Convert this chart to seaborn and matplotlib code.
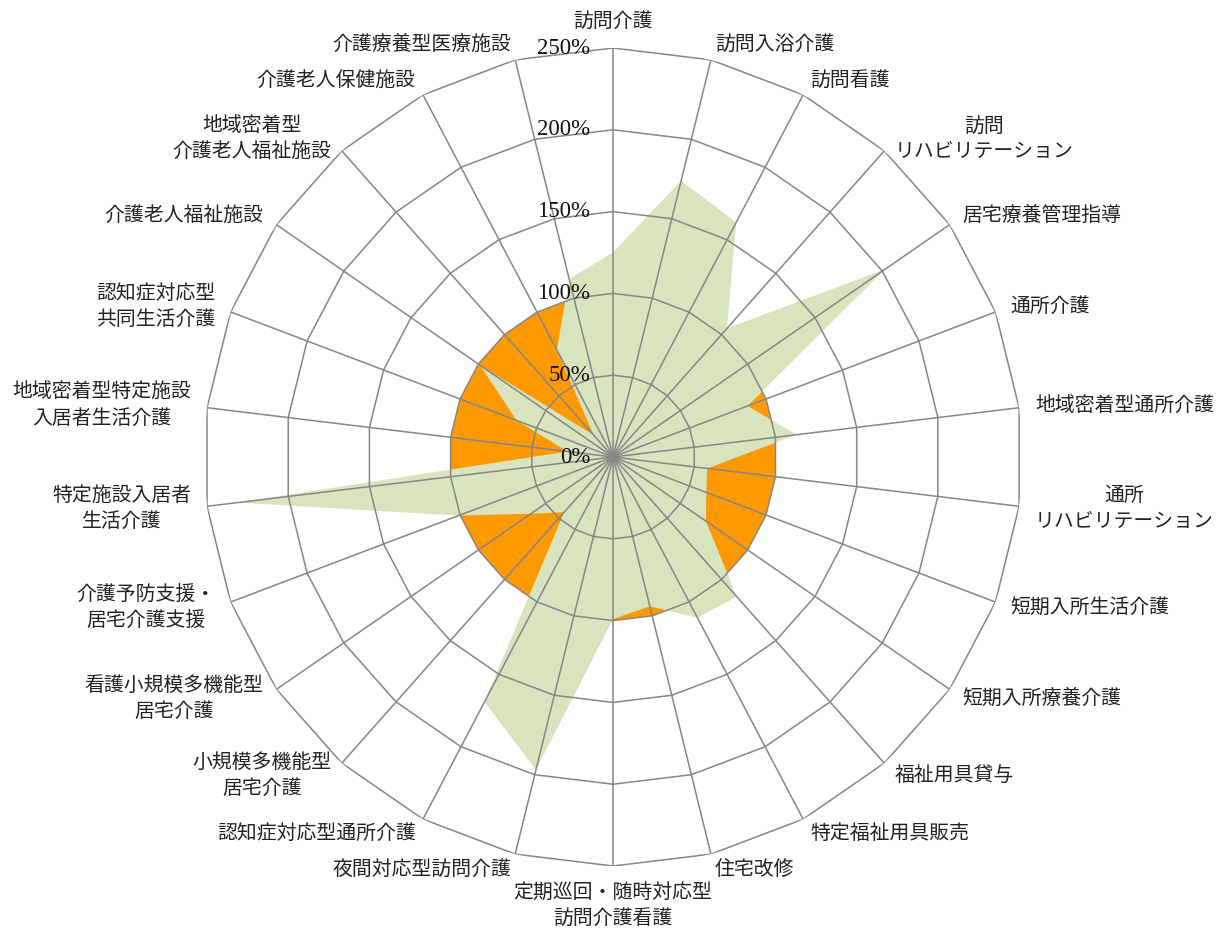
import numpy as np
import matplotlib
matplotlib.use("Agg")
import matplotlib.pyplot as plt
import seaborn as sns

sns.set_style("white")
plt.rcParams['font.family'] = ['Noto Sans CJK JP', 'DejaVu Sans']

# categories, clockwise from the top
categories = [
    '訪問介護', '訪問入浴介護', '訪問看護', '訪問\nリハビリテーション', '居宅療養管理指導',
    '通所介護', '地域密着型通所介護', '通所\nリハビリテーション', '短期入所生活介護',
    '短期入所療養介護', '福祉用具貸与', '特定福祉用具販売', '住宅改修',
    '定期巡回・随時対応型\n訪問介護看護', '夜間対応型訪問介護', '認知症対応型通所介護',
    '小規模多機能型\n居宅介護', '看護小規模多機能型\n居宅介護', '介護予防支援・\n居宅介護支援',
    '特定施設入居者\n生活介護', '地域密着型特定施設\n入居者生活介護', '認知症対応型\n共同生活介護',
    '介護老人福祉施設', '地域密着型\n介護老人福祉施設', '介護老人保健施設', '介護療養型医療施設',
]

# baseline series (orange) and regional series (green), in %
baseline = [100, 100, 100, 100, 100, 100, 100, 100, 100, 100, 100, 100, 100,
            100, 100, 100, 100, 100, 100, 100, 100, 100, 100, 100, 100, 100]
region = [125, 174, 162, 105, 202, 88, 113, 58, 61, 69, 114, 111, 94,
          99, 197, 169, 45, 61, 101, 231, 28, 63, 99, 18, 74, 112]

ticks = [0, 50, 100, 150, 200, 250]
tick_labels = ['0%', '50%', '100%', '150%', '200%', '250%']

n = len(categories)
theta = np.linspace(0, 2 * np.pi, n, endpoint=False)
theta_c = np.append(theta, theta[0])

fig = plt.figure(figsize=(12.16, 9.32), dpi=100)
ax = fig.add_axes([0.1678, 0.0708, 0.6727, 0.8777], projection='polar')
ax.set_theta_zero_location('N')
ax.set_theta_direction(-1)
ax.set_ylim(0, 250)
ax.grid(False)
ax.spines['polar'].set_visible(False)
ax.set_xticks([])
ax.set_yticks([])

grey = '#868686'

ax.fill(theta_c, baseline + baseline[:1], color='#FF9900', lw=0, zorder=1)
ax.fill(theta_c, region + region[:1], color='#D7E4BD', lw=0, zorder=2)

# polygon grid and spokes
for t in ticks[1:]:
    ax.plot(theta_c, [t] * (n + 1), color=grey, lw=1.1, zorder=3)
for th in theta:
    ax.plot([th, th], [0, 250], color=grey, lw=1.1, zorder=3)

for t, lab in zip(ticks, tick_labels):
    ax.annotate(lab, (0, t), xytext=(-23, 0), textcoords='offset pixels',
                ha='right', va='center', fontsize=16.5, family=['Liberation Serif'],
                color='#111111', zorder=5)

for th, lab in zip(theta, categories):
    s, c = np.sin(th), np.cos(th)
    d = 16
    if abs(s) < 0.01:
        ha = 'center'
        va = 'bottom' if c > 0 else 'top'
    else:
        ha = 'left' if s > 0 else 'right'
        va = 'center'
    ax.annotate(lab, (th, 250), xytext=(d * s, d * c), textcoords='offset pixels',
                ha=ha, va=va, fontsize=14.3, color='#222222',
                multialignment='center', linespacing=1.3, annotation_clip=False)

fig.savefig('out.png', dpi=100)
